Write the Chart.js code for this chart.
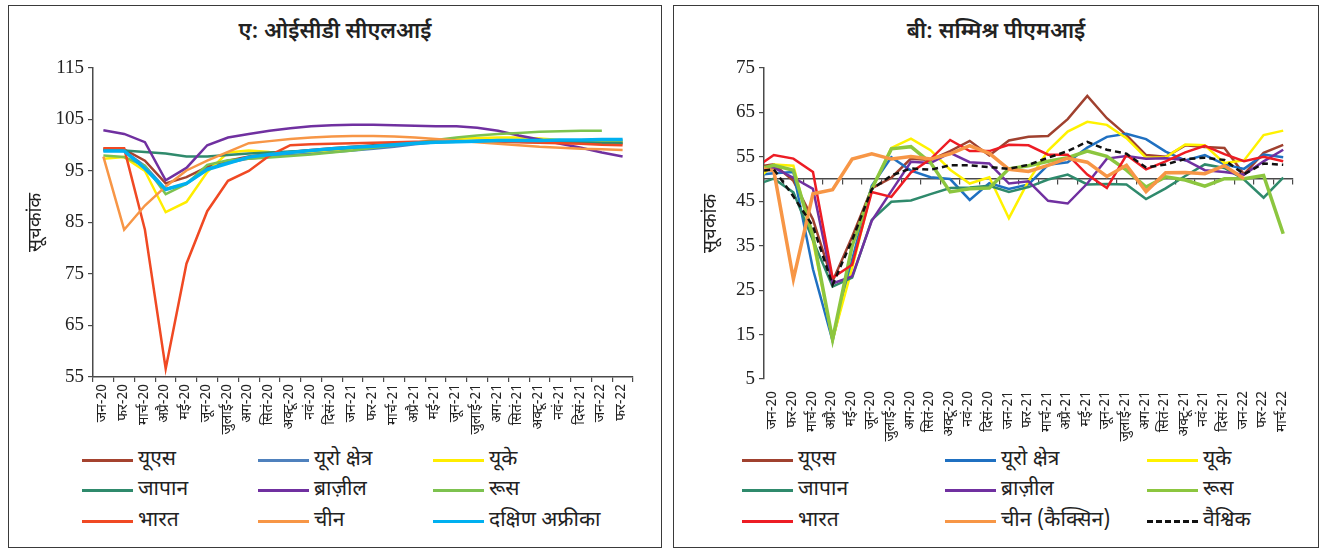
<!DOCTYPE html>
<html lang="hi">
<head>
<meta charset="utf-8">
<title>ओईसीडी सीएलआई और सम्मिश्र पीएमआई</title>
<script src="https://cdn.jsdelivr.net/npm/chart.js@4.4.1/dist/chart.umd.min.js"></script>
<style>
  html, body { margin: 0; padding: 0; background: #fff; }
  body {
    width: 1322px; height: 550px; position: relative; overflow: hidden;
    font-family: 'Noto Sans Devanagari', 'Lohit Devanagari', 'Noto Sans', sans-serif;
    color: #222;
  }
  .panel { position: absolute; top: 5px; height: 543px; border: 1.5px solid #3a3a3a; box-sizing: border-box; }
  #panelA { left: 8px; width: 654px; }
  #panelB { left: 673px; width: 646px; }
  .title { position: absolute; top: 12px; left: 0; right: 0; text-align: center; font-size: 22px; font-weight: 600; }
  canvas { position: absolute; }
  .item { position: absolute; display: flex; align-items: center; font-size: 21px; white-space: nowrap; height: 28px; }
  .swatch { width: 51px; height: 0; border-top: 3px solid; margin-right: 5px; }
</style>
</head>
<body>
<div class="panel" id="panelA"><div class="title">ए: ओईसीडी सीएलआई</div></div>
<div class="panel" id="panelB"><div class="title">बी: सम्मिश्र पीएमआई</div></div>
<canvas id="cli" width="650" height="440" style="left:9px;top:5px;width:650px;height:440px"></canvas>
<canvas id="pmi" width="642" height="440" style="left:674px;top:5px;width:642px;height:440px"></canvas>
<div id="legendA"></div>
<div id="legendB"></div>
<script>
// ---- Panel A: OECD composite leading indicators, Jan-20 to Feb-22 ----
const cliMonths = ['जन-20', 'फर-20', 'मार्च-20', 'अप्रै-20', 'मई-20', 'जून-20', 'जुलाई-20', 'अग-20', 'सितं-20', 'अक्टू-20', 'नवं-20', 'दिसं-20',
  'जन-21', 'फर-21', 'मार्च-21', 'अप्रै-21', 'मई-21', 'जून-21', 'जुलाई-21', 'अग-21', 'सितं-21', 'अक्टू-21', 'नवं-21', 'दिसं-21',
  'जन-22', 'फर-22'];
const cliTicks = [55, 65, 75, 85, 95, 105, 115];

const cliUS     = [99.3, 99.2, 97.0, 92.6, 93.8, 95.8, 97.0, 97.8, 98.3, 98.7, 99.1, 99.4, 99.7, 100.0, 100.3, 100.5, 100.7, 100.8, 100.8, 100.8, 100.7, 100.6, 100.5, 100.5, 100.4, 100.4];
const cliEuro   = [99.0, 98.9, 96.0, 91.5, 92.5, 95.4, 96.6, 97.4, 97.8, 98.1, 98.4, 98.7, 99.0, 99.3, 99.7, 100.2, 100.6, 100.8, 100.9, 101.0, 101.0, 101.0, 100.9, 100.9, 100.9, 100.9];
const cliUK     = [97.4, 97.7, 95.0, 87.0, 89.0, 94.8, 98.6, 99.0, 98.7, 98.6, 98.8, 99.1, 99.4, 99.7, 100.1, 100.5, 100.9, 101.2, 101.4, 101.5, 101.5, 101.3, 101.0, 100.8, 100.7, 100.7];
const cliJapan  = [99.1, 99.0, 98.7, 98.4, 97.8, 97.8, 98.1, 98.4, 98.6, 98.8, 99.0, 99.2, 99.5, 99.8, 100.1, 100.4, 100.6, 100.7, 100.8, 100.8, 100.8, 100.7, 100.6, 100.6, 100.5, 100.5];
const cliBrazil = [102.9, 102.2, 100.6, 93.2, 95.6, 100.0, 101.5, 102.2, 102.8, 103.3, 103.7, 103.9, 104.0, 104.0, 103.9, 103.8, 103.7, 103.7, 103.4, 102.8, 101.9, 101.1, 100.3, 99.5, 98.6, 97.8];
const cliRussia = [98.0, 97.7, 96.0, 90.5, 92.5, 96.2, 97.1, 97.4, 97.6, 97.9, 98.2, 98.6, 99.0, 99.5, 100.0, 100.5, 101.0, 101.5, 101.9, 102.2, 102.4, 102.6, 102.7, 102.8, 102.8, null];
const cliIndia  = [99.4, 99.4, 83.6, 56.6, 77.0, 87.2, 93.1, 95.0, 98.0, 100.0, 100.2, 100.3, 100.4, 100.5, 100.6, 100.7, 100.7, 100.8, 100.8, 100.7, 100.6, 100.5, 100.4, 100.3, 100.1, 100.0];
const cliChina  = [97.8, 83.6, 88.3, 92.0, 95.1, 97.0, 98.7, 100.4, 100.8, 101.2, 101.5, 101.7, 101.8, 101.8, 101.7, 101.5, 101.2, 100.9, 100.6, 100.3, 100.0, 99.7, 99.5, 99.3, 99.2, 99.1];
const cliSAfrica= [98.9, 98.9, 95.5, 91.4, 92.6, 95.3, 96.5, 97.7, 98.2, 98.6, 99.0, 99.3, 99.6, 99.8, 100.1, 100.4, 100.6, 100.7, 100.8, 100.9, 100.9, 100.9, 101.0, 101.0, 101.1, 101.1];

// ---- Panel B: composite PMI, Dec-19 (lead-in point, clipped) then Jan-20 to Mar-22 ----
const pmiMonths = ['दिसं-19', 'जन-20', 'फर-20', 'मार्च-20', 'अप्रै-20', 'मई-20', 'जून-20', 'जुलाई-20', 'अग-20', 'सितं-20', 'अक्टू-20', 'नवं-20', 'दिसं-20',
  'जन-21', 'फर-21', 'मार्च-21', 'अप्रै-21', 'मई-21', 'जून-21', 'जुलाई-21', 'अग-21', 'सितं-21', 'अक्टू-21', 'नवं-21', 'दिसं-21',
  'जन-22', 'फर-22', 'मार्च-22'];
const pmiTicks = [5, 15, 25, 35, 45, 55, 65, 75];
const pmiThreshold = 50;

const pmiUS     = [52.7, 53.3, 49.6, 40.9, 27.0, 37.0, 47.9, 50.3, 54.6, 54.3, 56.3, 58.6, 55.3, 58.7, 59.5, 59.7, 63.5, 68.7, 63.7, 59.9, 55.4, 55.0, 57.6, 57.2, 57.0, 51.1, 55.9, 57.7];
const pmiEuro   = [50.9, 51.3, 51.6, 29.7, 13.6, 31.9, 48.5, 54.9, 51.9, 50.4, 50.0, 45.3, 49.1, 47.8, 48.8, 53.2, 53.8, 57.1, 59.5, 60.2, 59.0, 56.2, 54.2, 55.4, 53.3, 52.3, 55.5, 54.9];
const pmiUK     = [49.3, 53.3, 53.0, 36.0, 13.8, 30.0, 47.7, 57.0, 59.1, 56.5, 52.1, 49.0, 50.4, 41.2, 49.6, 56.4, 60.7, 62.9, 62.2, 59.2, 54.8, 54.9, 57.8, 57.6, 53.6, 54.2, 59.9, 60.9];
const pmiJapan  = [48.6, 50.1, 47.0, 36.2, 25.8, 27.8, 40.8, 44.9, 45.2, 46.6, 48.0, 48.1, 48.5, 47.1, 48.2, 49.9, 51.0, 48.8, 48.9, 48.8, 45.5, 47.9, 50.7, 53.3, 52.5, 49.9, 45.8, 50.3];
const pmiBrazil = [51.5, 52.6, 50.3, 47.8, 26.5, 28.1, 40.6, 47.3, 53.9, 53.6, 55.9, 53.8, 53.5, 49.0, 49.5, 45.1, 44.5, 49.0, 54.6, 55.2, 54.6, 54.7, 54.3, 52.0, 51.6, 51.0, 54.0, 56.6];
const pmiRussia = [52.0, 53.1, 52.0, 37.2, 13.9, 35.0, 47.8, 56.8, 57.3, 53.7, 47.1, 47.8, 48.0, 52.3, 53.0, 54.0, 54.8, 56.3, 55.1, 52.0, 48.2, 50.5, 49.8, 48.4, 50.1, 50.1, 50.8, 37.7];
const pmiIndia  = [52.4, 55.4, 54.6, 51.6, 27.8, 30.7, 47.1, 46.0, 51.5, 54.5, 58.8, 56.3, 56.3, 57.7, 57.6, 55.5, 55.5, 51.0, 48.0, 55.4, 52.2, 54.0, 56.0, 57.5, 55.6, 54.0, 55.0, 54.0];
const pmiChina  = [52.6, 51.9, 27.5, 46.7, 47.6, 54.5, 55.7, 54.5, 55.1, 54.5, 55.7, 57.5, 55.8, 52.2, 51.7, 53.1, 54.7, 53.8, 50.6, 53.1, 47.2, 51.4, 51.5, 51.2, 53.0, 50.1, null, null];
const pmiGlobal = [51.7, 52.2, 46.1, 39.4, 26.2, 36.3, 47.7, 50.8, 52.4, 52.1, 53.1, 53.1, 52.7, 52.3, 53.2, 54.8, 56.3, 58.4, 56.6, 55.7, 52.6, 53.3, 54.5, 54.8, 54.3, 51.1, 53.5, 53.2];

const FONT = "'Noto Sans Devanagari', 'Lohit Devanagari', 'Noto Sans', sans-serif";
const NUM_FONT = "'Liberation Serif', 'DejaVu Serif', serif";
const AXIS = '#4a4a4a';

const cliSeries = [
  { label: 'यूएस', data: cliUS, color: '#a5432f', width: 2.5 },
  { label: 'यूरो क्षेत्र', data: cliEuro, color: '#4f81bd', width: 2.5 },
  { label: 'यूके', data: cliUK, color: '#ffed00', width: 2.5 },
  { label: 'जापान', data: cliJapan, color: '#2f8a6c', width: 2.5 },
  { label: 'ब्राज़ील', data: cliBrazil, color: '#7030a0', width: 2.5 },
  { label: 'रूस', data: cliRussia, color: '#7dc24f', width: 2.5 },
  { label: 'भारत', data: cliIndia, color: '#f04923', width: 2.5 },
  { label: 'चीन', data: cliChina, color: '#f79646', width: 2.5 },
  { label: 'दक्षिण अफ्रीका', data: cliSAfrica, color: '#00b0f0', width: 3.5 }
];

const pmiSeries = [
  { label: 'यूएस', data: pmiUS, color: '#a0412f', width: 2.5 },
  { label: 'यूरो क्षेत्र', data: pmiEuro, color: '#1f70c1', width: 2.5 },
  { label: 'यूके', data: pmiUK, color: '#fff200', width: 2.5 },
  { label: 'जापान', data: pmiJapan, color: '#2f8a6c', width: 2.5 },
  { label: 'ब्राज़ील', data: pmiBrazil, color: '#7030a0', width: 2.5 },
  { label: 'रूस', data: pmiRussia, color: '#8cc63f', width: 3.5 },
  { label: 'भारत', data: pmiIndia, color: '#ed1c24', width: 2.5 },
  { label: 'चीन (कैक्सिन)', data: pmiChina, color: '#f79646', width: 3.5 },
  { label: 'वैश्विक', data: pmiGlobal, color: '#111111', width: 2.5, dash: [6, 4] }
];

function toDatasets(series) {
  const n = series.length;
  return series.map((s, i) => ({
    label: s.label,
    data: s.data,
    borderColor: s.color,
    backgroundColor: s.color,
    borderWidth: s.width,
    borderDash: s.dash || [],
    pointRadius: 0,
    pointHoverRadius: 0,
    tension: 0,
    fill: false,
    order: n - i,          // later series drawn on top
    xAxisID: 'x',
    yAxisID: 'y'
  }));
}

function yAxis(min, max, ticks, width, titlePad) {
  return {
    type: 'linear', position: 'left', min, max,
    afterBuildTicks: s => { s.ticks = ticks.map(v => ({ value: v })); },
    afterFit: s => { s.width = width; },
    border: { display: true, color: AXIS, width: 1.5 },
    grid: { display: true, drawOnChartArea: false, drawTicks: true, tickLength: 5, color: AXIS, lineWidth: 1.2 },
    ticks: { color: '#222', padding: 4, font: { family: NUM_FONT, size: 19 } },
    title: { display: true, text: 'सूचकांक', color: '#222', font: { family: FONT, size: 19 }, padding: { top: titlePad, bottom: 0 } }
  };
}

Chart.defaults.font.family = FONT;

new Chart(document.getElementById('cli'), {
  type: 'line',
  data: { labels: cliMonths, datasets: toDatasets(cliSeries) },
  options: {
    responsive: false, animation: false, devicePixelRatio: 1,
    layout: { padding: { top: 63, right: 26, bottom: 0, left: 0 } },
    plugins: { legend: { display: false }, tooltip: { enabled: false }, title: { display: false } },
    scales: {
      x: {
        type: 'category', position: 'bottom', offset: true,
        afterFit: s => { s.height = 68; },
        border: { display: true, color: AXIS, width: 1.5 },
        grid: { display: true, offset: true, drawOnChartArea: false, drawTicks: true, tickLength: 5, color: AXIS, lineWidth: 1.2 },
        ticks: { autoSkip: false, maxRotation: 90, minRotation: 90, padding: 2, color: '#222', font: { family: FONT, size: 14 } }
      },
      y: yAxis(55, 115, cliTicks, 84, 17)
    }
  }
});

new Chart(document.getElementById('pmi'), {
  type: 'line',
  data: { labels: pmiMonths, datasets: toDatasets(pmiSeries) },
  options: {
    responsive: false, animation: false, devicePixelRatio: 1,
    layout: { padding: { top: 63, right: 23, bottom: 0, left: 0 } },
    plugins: { legend: { display: false }, tooltip: { enabled: false }, title: { display: false } },
    scales: {
      // month labels along the bottom edge
      x: {
        type: 'category', position: 'bottom', offset: true, min: 1,
        afterFit: s => { s.height = 66; },
        border: { display: false },
        grid: { display: false },
        ticks: { autoSkip: false, maxRotation: 90, minRotation: 90, padding: 4, color: '#222', font: { family: FONT, size: 14 } }
      },
      // horizontal axis line crossing at the 50 threshold
      x50: {
        type: 'category', position: { y: pmiThreshold }, offset: true, min: 1,
        border: { display: true, color: AXIS, width: 1.5 },
        grid: { display: true, offset: true, drawOnChartArea: false, drawTicks: true, tickLength: 5, color: AXIS, lineWidth: 1.2 },
        ticks: { display: false, autoSkip: false }
      },
      y: yAxis(5, 75, pmiTicks, 90, 27)
    }
  }
});

// HTML legends laid out in three columns
function buildLegend(el, series, cols, rows) {
  series.forEach((s, i) => {
    const item = document.createElement('div');
    item.className = 'item';
    item.style.left = cols[i % 3] + 'px';
    item.style.top = (rows[Math.floor(i / 3)] - 14) + 'px';
    const sw = document.createElement('span');
    sw.className = 'swatch';
    sw.style.borderTopColor = s.color;
    if (s.dash) sw.style.borderTopStyle = 'dashed';
    const tx = document.createElement('span');
    tx.textContent = s.label;
    item.appendChild(sw);
    item.appendChild(tx);
    el.appendChild(item);
  });
}
buildLegend(document.getElementById('legendA'), cliSeries, [82, 258, 433], [460, 490, 521]);
buildLegend(document.getElementById('legendB'), pmiSeries, [742, 945, 1147], [460, 490, 521]);
</script>
</body>
</html>
